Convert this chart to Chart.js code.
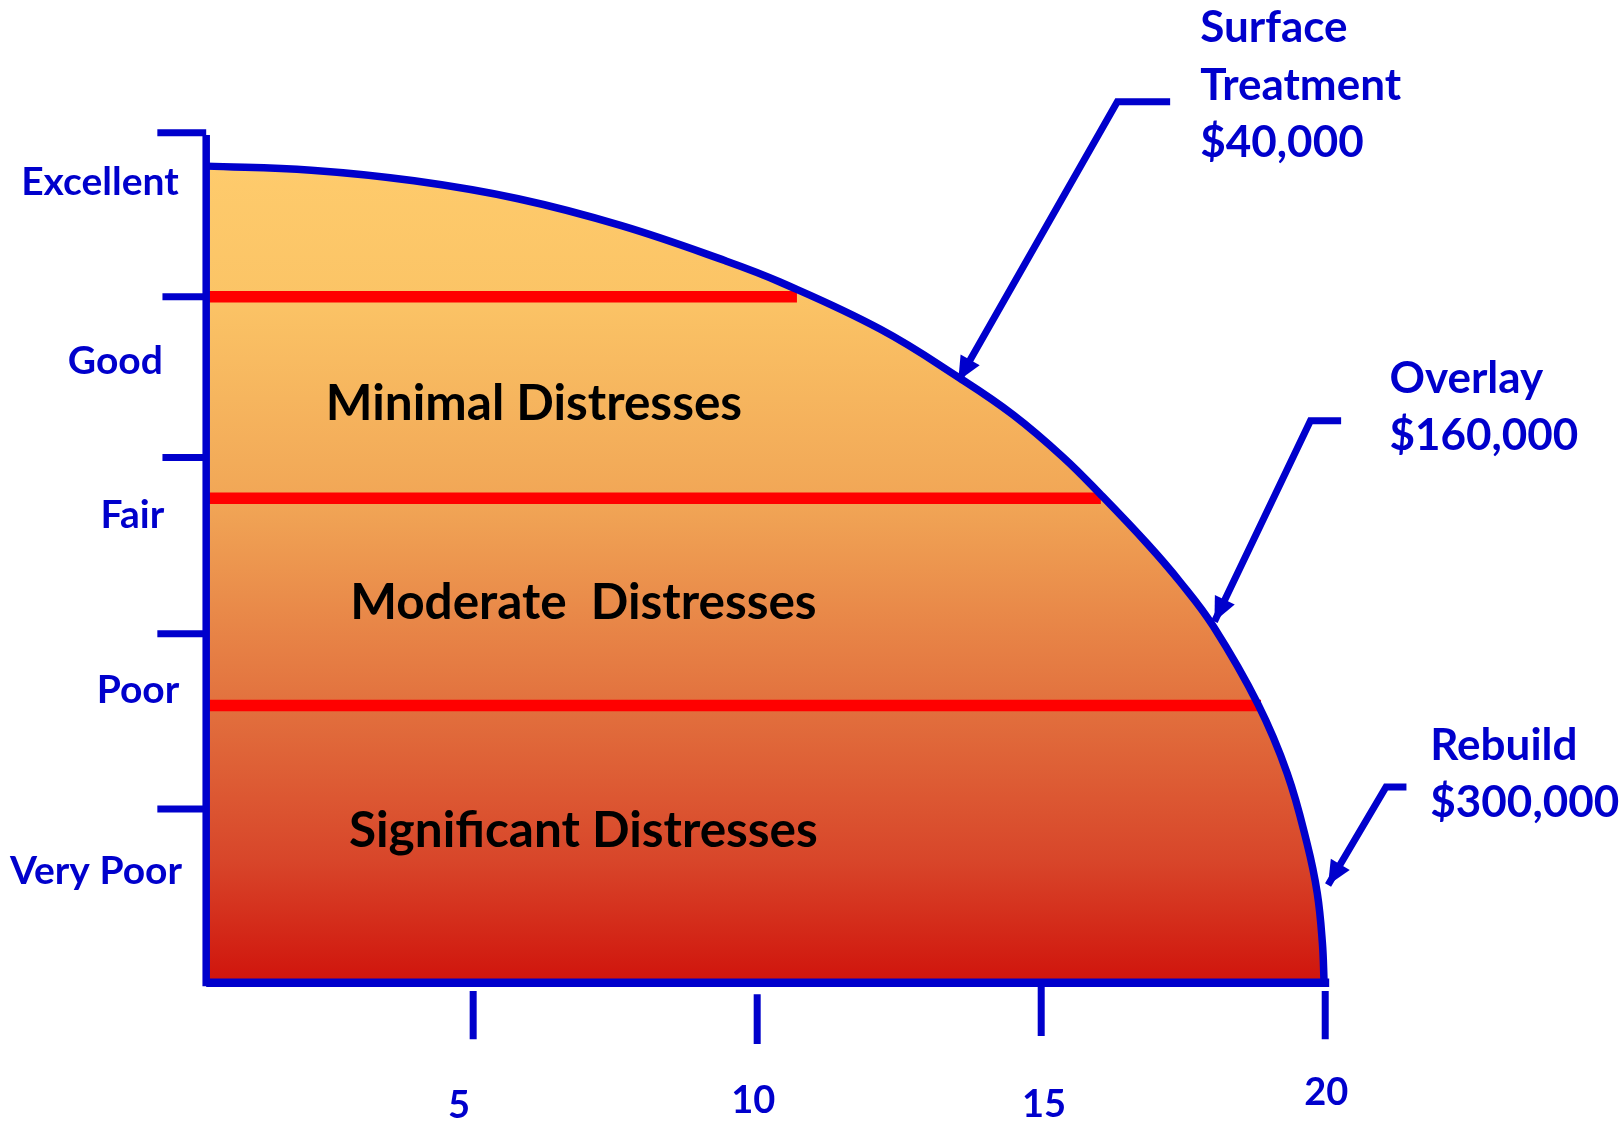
<!DOCTYPE html>
<html>
<head>
<meta charset="utf-8">
<title>Pavement condition</title>
<script src="https://cdn.jsdelivr.net/npm/chart.js@4.4.1/dist/chart.umd.min.js"></script>
<style>
    html, body { margin: 0; padding: 0; background: #ffffff; }
    #wrap { width: 1624px; height: 1121px; }
</style>
</head>
<body>
<div id="wrap"><canvas id="pciChart" width="1624" height="1121"></canvas></div>
<script>
// deterioration curve (age in years, condition index)
const curveAge = [0.30, 2.15, 3.96, 5.79, 7.61, 9.44, 10.40, 12.17, 13.57, 14.51, 15.39, 16.04, 16.87, 17.45, 18.03, 18.82, 19.33, 19.68, 19.86, 19.95, 19.98];
const curveCond = [100.0, 99.5, 98.2, 96.0, 92.7, 88.4, 85.8, 80.0, 74.0, 69.5, 64.3, 59.8, 53.7, 49.0, 43.6, 34.0, 25.6, 17.0, 10.9, 4.8, 0];

// red band limits
const bandCond = [84.0, 59.3, 33.9];
const bandStart = [0.30, 0.30, 0.25];
const bandEnd = [10.70, 16.05, 18.87];
const bandLabels = ['Minimal Distresses', 'Moderate  Distresses', 'Significant Distresses'];

// condition scale on the left
const condLabels = ['Excellent', 'Good', 'Fair', 'Poor', 'Very Poor'];
const condTicks = [104.1, 84.0, 64.3, 42.7, 21.2];
const condTickStart = [-0.56, -0.47, -0.47, -0.56, -0.56];

// age scale at the bottom
const ageTicks = [5, 10, 15, 20];
const ageTickLabels = ['5', '10', '15', '20'];
const ageTickTop = [-1.1, -1.5, -0.5, -1.1];
const ageTickBottom = [-7.0, -7.6, -6.6, -7.0];

// treatments and their costs
const treatments = ['Surface\nTreatment', 'Overlay', 'Rebuild'];
const treatmentCost = ['$40,000', '$160,000', '$300,000'];
const arrowSurface = [[17.27, 107.9], [16.34, 107.9], [13.54, 73.7]];
const arrowOverlay = [[20.28, 68.8], [19.74, 68.8], [18.05, 44.2]];
const arrowRebuild = [[21.43, 23.9], [21.07, 23.9], [20.05, 11.9]];

const BLUE = '#0000cc';
const RED = '#ff0000';
const FONT = 'Lato, "Noto Sans", sans-serif';

function pts(xs, ys) {
    return xs.map((x, i) => ({ x: x, y: ys[i] }));
}

function gradientFill(context) {
    const chart = context.chart;
    const { ctx, chartArea, scales } = chart;
    if (!chartArea || !scales.y) return '#f6b460';
    const top = scales.y.getPixelForValue(100);
    const bottom = scales.y.getPixelForValue(0);
    if (!isFinite(top) || !isFinite(bottom)) return '#f6b460';
    const g = ctx.createLinearGradient(0, top, 0, bottom);
    g.addColorStop(0, '#fecb6c');
    g.addColorStop(0.16, '#fbc466');
    g.addColorStop(0.41, '#f1a656');
    g.addColorStop(0.66, '#e2713e');
    g.addColorStop(0.85, '#d8462a');
    g.addColorStop(1, '#d0140c');
    return g;
}

const datasets = [];

datasets.push({
    label: 'curve',
    data: pts(curveAge, curveCond),
    borderColor: BLUE,
    borderWidth: 7.5,
    backgroundColor: gradientFill,
    fill: { value: 0 },
    tension: 0.4,
    order: 0
});

bandCond.forEach((c, i) => {
    datasets.push({
        label: 'band' + i,
        data: [{ x: bandStart[i], y: c }, { x: bandEnd[i], y: c }],
        borderColor: RED,
        borderWidth: 11.5,
        order: 5
    });
});

// axes
datasets.push({
    label: 'yAxis',
    data: [{ x: 0.30, y: condTicks[0] - 0.3 }, { x: 0.30, y: -0.5 }],
    borderColor: BLUE,
    borderWidth: 7.5,
    order: 1
});
datasets.push({
    label: 'xAxis',
    data: [{ x: 0.30, y: -0.1 }, { x: 20.07, y: -0.1 }],
    borderColor: BLUE,
    borderWidth: 8.5,
    order: 1
});

condTicks.forEach((c, i) => {
    datasets.push({
        label: 'condTick' + i,
        data: [{ x: condTickStart[i], y: c }, { x: 0.30, y: c }],
        borderColor: BLUE,
        borderWidth: 7,
        order: 1
    });
});

ageTicks.forEach((a, i) => {
    datasets.push({
        label: 'ageTick' + i,
        data: [{ x: a, y: ageTickTop[i] }, { x: a, y: ageTickBottom[i] }],
        borderColor: BLUE,
        borderWidth: 7,
        order: 1
    });
});

[arrowSurface, arrowOverlay, arrowRebuild].forEach((arr, i) => {
    datasets.push({
        label: 'arrow' + i,
        data: arr.map(p => ({ x: p[0], y: p[1] })),
        borderColor: BLUE,
        borderWidth: 7,
        borderJoinStyle: 'miter',
        arrow: true,
        order: 1
    });
});

// arrow heads at the end of the callout leaders
const arrowHeads = {
    id: 'arrowHeads',
    afterDatasetsDraw(chart) {
        const ctx = chart.ctx;
        chart.data.datasets.forEach((ds, i) => {
            if (!ds.arrow) return;
            const el = chart.getDatasetMeta(i).data;
            const a = el[el.length - 2], b = el[el.length - 1];
            const ang = Math.atan2(b.y - a.y, b.x - a.x);
            const len = 24, half = 11;
            ctx.save();
            ctx.translate(b.x, b.y);
            ctx.rotate(ang);
            ctx.fillStyle = BLUE;
            ctx.beginPath();
            ctx.moveTo(0, 0);
            ctx.lineTo(-len, -half);
            ctx.lineTo(-len, half);
            ctx.closePath();
            ctx.fill();
            ctx.restore();
        });
    }
};

// all text placed in data coordinates
const texts = [];
const condLabelPos = [[-1.57, 98.0], [-1.30, 76.1], [-1.00, 57.2], [-0.90, 35.7], [-1.64, 13.6]];
condLabels.forEach((t, i) => texts.push({ t, x: condLabelPos[i][0], y: condLabelPos[i][1], size: 39, color: BLUE, align: 'center' }));

const bandLabelPos = [[6.07, 70.85], [6.94, 46.45], [6.94, 18.55]];
bandLabels.forEach((t, i) => texts.push({ t, x: bandLabelPos[i][0], y: bandLabelPos[i][1], size: 49.5, color: '#000000', align: 'center' }));

const ageLabelPos = [[4.75, -15.2], [9.93, -14.6], [15.05, -15.0], [20.02, -13.6]];
ageTickLabels.forEach((t, i) => texts.push({ t, x: ageLabelPos[i][0], y: ageLabelPos[i][1], size: 38, color: BLUE, align: 'center' }));

const calloutPos = [[17.80, 116.9], [21.13, 73.9], [21.85, 29.0]];
treatments.forEach((t, i) => {
    const lines = t.split('\n').concat([treatmentCost[i]]);
    lines.forEach((line, j) => {
        texts.push({ t: line, x: calloutPos[i][0], y: calloutPos[i][1] - j * 7.0, size: 44, color: BLUE, align: 'left' });
    });
});

const textLayer = {
    id: 'textLayer',
    afterDraw(chart) {
        const { ctx, scales } = chart;
        ctx.save();
        ctx.textBaseline = 'middle';
        texts.forEach(o => {
            ctx.font = 'bold ' + o.size + 'px ' + FONT;
            ctx.fillStyle = o.color;
            ctx.textAlign = o.align;
            ctx.fillText(o.t, scales.x.getPixelForValue(o.x), scales.y.getPixelForValue(o.y));
        });
        ctx.restore();
    }
};

new Chart(document.getElementById('pciChart').getContext('2d'), {
    type: 'scatter',
    data: { datasets: datasets },
    options: {
        responsive: false,
        animation: false,
        showLine: true,
        layout: { padding: 0 },
        elements: {
            point: { radius: 0, hoverRadius: 0 },
            line: { tension: 0, fill: false, borderCapStyle: 'butt' }
        },
        plugins: {
            legend: { display: false },
            tooltip: { enabled: false },
            filler: { drawTime: 'beforeDatasetsDraw' }
        },
        scales: {
            x: { type: 'linear', min: -3.33, max: 25.26, display: false },
            y: { type: 'linear', min: -17.03, max: 120.36, display: false }
        }
    },
    plugins: [arrowHeads, textLayer]
});
</script>
</body>
</html>
